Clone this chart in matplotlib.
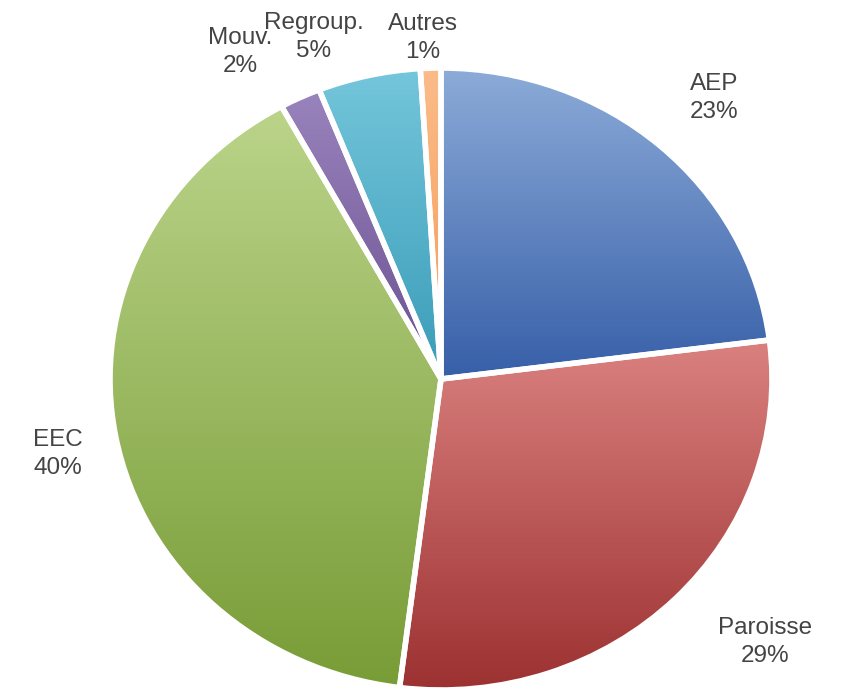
import numpy as np
import matplotlib.pyplot as plt
from matplotlib.colors import LinearSegmentedColormap

plt.rcParams['font.family'] = ['Liberation Sans', 'DejaVu Sans']

# data
categories = ['AEP', 'Paroisse', 'EEC', 'Mouv.', 'Regroup.', 'Autres']
values = [23, 29, 40, 2, 5, 1]

# gradient colours (top, bottom) for each slice
top_colors = ['#8cabd8', '#da817f', '#bbd48a', '#9a84bd', '#74c6db', '#fbbc8a']
bottom_colors = ['#375fa8', '#9c3131', '#789c36', '#6a5090', '#3a9cb8', '#f59a55']

# label centres in pixels (x, y from top)
label_pos = [(714, 98), (765, 642), (58, 454), (240, 52), (314, 37), (423, 38)]

W, H = 846, 694
cx, cy = 441, 379
rx, ry = 331, 311

fig = plt.figure(figsize=(W / 100, H / 100), dpi=100)
ax = fig.add_axes([0, 0, 1, 1])

wedges, _ = ax.pie(values, startangle=90, counterclock=False, radius=1,
                   wedgeprops=dict(edgecolor='white', linewidth=4, facecolor='none'))

for i, w in enumerate(wedges):
    ext = w.get_path().get_extents()
    cmap = LinearSegmentedColormap.from_list('g%d' % i, [bottom_colors[i], top_colors[i]])
    grad = np.linspace(1, 0, 256).reshape(-1, 1)
    im = ax.imshow(grad, cmap=cmap, extent=(ext.x0, ext.x1, ext.y0, ext.y1),
                   aspect='auto', origin='upper', zorder=0.5)
    im.set_clip_path(w)
    w.set_zorder(2)

ax.set_aspect('auto')
ax.set_xlim(-cx / rx, (W - cx) / rx)
ax.set_ylim(-(H - cy) / ry, cy / ry)
ax.axis('off')

for (px, py), cat, v in zip(label_pos, categories, values):
    x = (px - cx) / rx
    y = (cy - py) / ry
    ax.text(x, y, '%s\n%d%%' % (cat, v), ha='center', va='center',
            fontsize=17.5, color='#444444', linespacing=1.3, zorder=3)

plt.savefig('out.png', dpi=100)
